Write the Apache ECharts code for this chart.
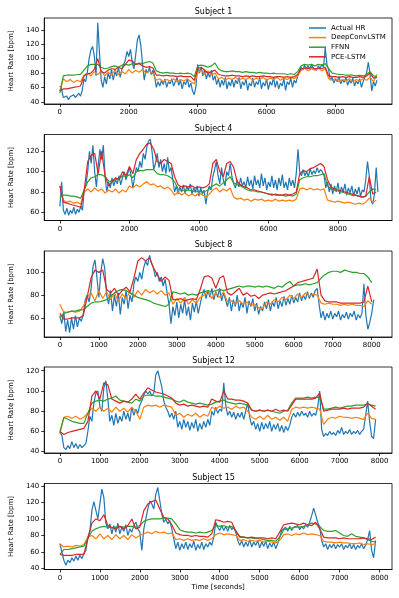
<!DOCTYPE html>
<html>
<head>
<meta charset="utf-8">
<script src="https://cdn.jsdelivr.net/npm/echarts@6/dist/echarts.min.js"></script>
<style>
  html, body { margin: 0; padding: 0; background: #fff; }
  #hr-chart { width: 399px; height: 598px; }
</style>
</head>
<body>
<div id="hr-chart"></div>
<script>
// series names / colours
const seriesNames = ['Actual HR', 'DeepConvLSTM', 'FFNN', 'PCE-LSTM'];
const subjects = ['Subject 1', 'Subject 4', 'Subject 8', 'Subject 12', 'Subject 15'];
// sample spacing (seconds): actual HR every 50 s, model predictions every 100 s
const hrStep = 50;
const predStep = 100;

// ---- Subject 1 ----
const s1Hr = [62,58,46,44,48,43,47,45,50,46,49,52,48,56,72,68,82,100,112,117,
  104,76,150,108,70,60,75,65,80,72,85,70,82,76,88,74,85,92,98,110,
  103,113,95,86,105,126,133,118,92,70,85,80,88,78,84,75,60,68,62,70,
  64,72,60,68,65,72,62,68,74,63,70,58,68,64,72,60,66,55,50,62,
  92,80,88,76,85,72,80,74,84,70,76,64,72,60,70,63,74,58,68,62,
  72,60,70,65,74,58,68,63,72,56,66,62,73,60,68,64,74,58,67,62,
  72,57,68,63,74,60,69,58,66,62,72,56,68,64,73,60,70,66,76,82,
  88,84,91,86,90,85,92,87,89,84,90,86,92,88,115,92,84,70,74,66,
  72,68,75,65,71,67,74,63,70,66,73,62,69,65,72,60,68,74,80,95,
  78,55,68,62,70];
const s1Conv = [55,72,68,71,67,70,68,77,80,76,82,78,83,76,81,77,84,78,82,79,
  85,80,84,81,85,80,83,79,70,72,68,71,69,72,68,71,69,72,68,65,
  80,84,78,83,77,80,72,74,70,73,71,74,70,73,71,74,70,73,71,74,
  70,73,71,74,70,73,71,74,72,76,84,87,83,86,84,87,83,86,72,70,
  72,68,71,69,72,68,71,69,72,70,74,68,78];
const s1Ffnn = [52,76,77,77,77,78,78,84,90,92,92,92,88,86,87,89,90,88,91,92,
  91,93,92,94,93,95,96,94,83,81,80,81,80,80,79,80,79,80,79,75,
  90,91,90,88,90,94,86,83,82,82,83,82,82,81,82,81,81,80,81,80,
  80,79,80,79,79,79,78,79,78,82,90,92,91,92,90,92,91,93,86,80,
  79,78,78,77,77,77,76,77,76,78,82,76,75];
const s1Pce = [55,58,58,59,60,61,62,76,79,80,85,100,82,80,84,86,85,88,86,92,
  98,97,92,93,90,88,89,87,77,77,76,77,76,76,75,76,75,75,75,70,
  86,88,84,80,82,84,78,77,76,76,77,76,76,75,76,75,76,75,75,76,
  75,75,74,75,75,74,75,74,75,78,86,87,86,88,86,87,86,88,76,75,
  75,74,75,74,75,74,74,75,74,76,80,73,74];

// ---- Subject 4 ----
const s4Hr = [66,90,62,58,64,57,62,59,65,58,63,60,66,62,82,88,100,120,108,126,
  100,85,105,122,112,126,95,80,90,84,94,86,92,88,96,87,94,100,92,98,
  104,96,84,95,104,100,110,104,118,112,124,130,132,120,102,108,118,104,112,100,
  108,98,114,100,104,92,80,86,78,85,80,87,79,85,82,88,78,84,80,86,
  76,84,78,82,68,80,86,82,95,102,110,96,88,104,92,86,100,96,108,95,
  88,84,92,85,94,86,90,84,95,86,92,83,96,87,92,84,98,86,94,82,
  90,85,96,84,92,82,94,86,97,84,90,82,94,86,92,84,98,122,100,96,
  102,96,100,95,103,97,101,98,104,99,102,100,96,84,90,80,88,78,86,80,
  89,78,85,80,88,77,84,79,86,76,83,78,85,76,82,80,92,110,96,72,
  68,78,104,80];
const s4Conv = [86,72,70,71,69,70,68,80,83,80,84,81,83,79,82,80,83,79,82,80,
  86,84,87,85,88,90,87,88,85,86,83,85,82,77,80,77,79,76,78,76,
  79,77,75,78,82,84,80,83,81,84,75,73,74,72,73,71,73,72,73,71,
  72,71,73,71,72,71,72,71,73,83,84,82,84,82,83,82,83,72,71,70,
  71,70,69,70,69,68,69,68,70,74,70,72];
const s4Ffnn = [75,77,77,76,76,75,74,82,90,94,95,97,97,95,91,90,92,93,96,95,
  97,94,100,101,101,102,102,102,98,97,97,96,94,90,83,82,81,82,81,80,
  81,80,81,83,86,88,86,89,92,95,89,87,86,84,82,81,81,80,80,79,
  78,78,77,77,77,76,77,76,78,92,94,95,95,96,96,97,98,86,83,82,
  81,80,79,78,77,77,76,75,76,80,83,82];
const s4Pce = [86,70,69,68,67,66,65,82,110,116,118,98,120,96,86,90,94,92,100,96,
  105,98,112,118,122,127,128,122,110,108,112,110,108,95,87,85,86,85,86,84,
  85,84,85,88,108,112,100,95,108,110,104,90,87,85,84,82,82,81,80,79,
  78,77,78,77,77,78,77,78,80,98,101,100,103,104,106,108,105,92,85,83,
  82,81,80,79,78,77,76,75,76,95,78,80];

// ---- Subject 8 ----
const s8Hr = [62,55,66,48,58,47,60,50,62,52,60,57,63,76,80,74,85,105,111,96,
  78,100,112,104,80,72,84,66,80,70,82,63,78,72,84,68,80,74,90,96,
  92,100,94,104,110,106,115,108,104,96,100,92,96,88,94,82,72,55,70,62,
  74,60,72,64,76,62,70,58,73,65,75,64,72,80,85,77,84,78,86,76,
  83,78,86,75,82,76,70,78,66,76,70,80,66,74,69,78,64,75,70,77,
  66,73,63,70,66,74,68,76,66,74,70,78,68,75,70,79,71,77,72,80,
  73,78,74,82,75,80,76,83,77,82,78,84,86,72,60,66,58,64,60,66,
  59,64,61,66,58,63,60,65,59,64,61,66,58,63,60,64,90,62,50,56,
  64,76];
const s8Conv = [72,65,65,66,65,66,70,78,82,75,84,77,83,76,82,75,81,77,83,78,
  84,80,85,82,84,81,84,80,82,72,77,73,78,72,76,73,78,80,84,77,
  82,78,83,74,75,72,75,72,74,71,72,69,68,74,72,76,74,78,76,80,
  77,81,78,82,79,81,80,73,72,73,72,72,71,72,71,72,71,71,70,75,
  72];
const s8Ffnn = [60,64,65,66,66,67,67,70,73,74,74,75,76,79,82,84,85,84,82,80,
  78,77,76,75,73,72,71,70,72,83,82,81,82,80,81,80,82,83,84,83,
  84,85,84,85,86,87,88,87,88,88,87,88,87,88,87,86,88,87,90,92,
  88,89,89,90,89,90,91,95,98,100,101,101,100,102,101,100,100,99,99,96,
  91];
const s8Pce = [64,59,59,60,60,60,62,78,95,102,100,102,85,82,86,80,84,87,83,95,
  110,113,110,113,104,98,92,96,93,76,76,77,75,76,77,76,85,96,97,95,
  86,95,97,82,80,83,86,80,82,79,80,77,80,81,82,81,82,83,84,86,
  88,91,92,93,94,95,103,80,75,74,74,74,73,73,73,73,73,73,74,88,
  74];

// ---- Subject 12 ----
const s12Hr = [60,56,44,42,46,43,50,44,48,43,47,44,46,48,60,75,70,88,98,100,
  85,80,103,110,92,70,76,66,78,68,75,70,80,72,78,70,84,76,82,78,
  86,90,96,100,97,100,95,98,116,120,119,104,90,84,80,74,78,72,80,64,
  70,62,72,64,70,61,69,63,72,60,68,62,70,64,72,66,80,76,84,78,
  82,80,108,86,76,80,74,79,72,78,74,79,72,80,88,74,66,70,62,68,
  60,69,62,68,63,70,60,67,62,68,60,66,59,65,61,66,74,78,74,79,
  75,80,76,78,74,80,75,78,76,84,100,62,55,58,56,60,57,59,56,61,
  58,64,57,60,58,62,57,60,58,61,57,60,62,76,90,70,55,53,72];
const s12Conv = [60,74,75,73,75,72,74,78,83,80,84,80,83,79,84,80,83,79,84,80,
  72,84,86,85,86,84,86,85,84,76,78,74,77,75,78,74,77,75,84,82,
  85,83,84,82,85,83,84,80,74,72,75,72,76,72,74,71,74,70,82,84,
  83,84,83,84,83,82,67,72,74,73,75,74,74,73,74,73,72,78,73,72];
const s12Ffnn = [58,74,72,70,69,68,68,78,88,90,91,90,92,93,95,91,90,89,88,92,
  90,95,96,96,95,95,94,93,92,90,89,91,89,88,87,88,87,86,87,89,
  90,91,89,88,87,88,87,86,81,80,81,80,81,80,79,78,80,81,88,93,
  93,93,94,93,94,94,82,82,83,84,83,84,85,85,86,86,86,87,86,85];
const s12Pce = [60,57,59,60,61,62,63,70,95,100,92,108,106,92,90,88,90,89,92,97,
  92,98,103,101,99,98,97,95,93,88,86,87,85,86,85,84,85,84,92,90,
  89,100,92,92,91,91,90,88,81,80,81,80,81,80,82,80,81,80,86,92,
  92,92,92,92,93,98,80,81,82,82,82,83,82,83,83,83,84,88,85,82];

// ---- Subject 15 ----
const s15Hr = [70,60,50,44,50,47,53,49,55,50,56,52,58,62,78,85,110,121,122,100,
  118,136,126,95,88,94,82,92,84,95,82,90,85,93,80,88,84,92,96,88,
  84,62,88,100,112,122,118,112,130,138,122,106,96,100,94,98,88,76,64,72,
  62,70,64,72,63,70,65,73,62,69,64,72,63,70,66,72,68,78,96,90,
  86,92,86,91,85,92,87,90,84,74,68,74,66,72,67,75,66,72,68,74,
  65,72,67,73,64,71,66,72,64,70,78,86,84,90,85,91,86,90,88,92,
  87,91,88,93,90,96,104,113,105,96,90,74,66,70,63,69,65,70,64,69,
  66,70,63,68,65,70,64,69,63,68,65,70,64,68,75,86,62,53,74];
const s15Conv = [70,66,67,66,68,67,69,78,80,76,82,76,80,75,81,76,80,75,81,77,
  80,82,84,82,85,83,84,82,83,75,76,74,76,74,75,74,76,74,76,81,
  83,81,82,81,80,74,75,73,74,73,74,72,73,72,71,74,81,82,80,82,
  81,83,81,82,81,80,73,72,72,71,72,71,71,70,70,71,69,70,69,70];
const s15Ffnn = [57,63,63,64,65,66,67,76,85,88,90,91,90,89,90,91,90,91,91,90,
  92,97,99,100,100,100,101,101,100,94,87,85,84,84,83,84,83,84,86,92,
  91,92,90,91,86,79,78,77,77,76,76,75,74,74,73,78,87,88,89,90,
  90,91,93,95,94,91,86,85,85,86,83,80,79,82,79,78,77,75,73,72];
const s15Pce = [57,56,56,56,57,57,57,76,95,100,98,105,92,90,88,91,88,92,100,88,
  90,110,118,121,123,112,102,100,93,83,81,80,80,79,80,79,79,78,82,99,
  98,96,97,96,85,78,78,77,78,77,77,77,76,77,76,84,93,94,95,94,
  93,95,93,92,96,88,78,77,77,77,76,77,76,76,76,76,77,76,75,78];

// per-panel data, axis ranges and tick labels
const hrData = [s1Hr, s4Hr, s8Hr, s12Hr, s15Hr];
const convData = [s1Conv, s4Conv, s8Conv, s12Conv, s15Conv];
const ffnnData = [s1Ffnn, s4Ffnn, s8Ffnn, s12Ffnn, s15Ffnn];
const pceData = [s1Pce, s4Pce, s8Pce, s12Pce, s15Pce];
const xTicks = [
  [0, 2000, 4000, 6000, 8000],
  [0, 2000, 4000, 6000, 8000],
  [0, 1000, 2000, 3000, 4000, 5000, 6000, 7000, 8000],
  [0, 1000, 2000, 3000, 4000, 5000, 6000, 7000, 8000],
  [0, 1000, 2000, 3000, 4000, 5000, 6000, 7000, 8000]
];
const yTicks = [
  [40, 60, 80, 100, 120, 140],
  [60, 80, 100, 120],
  [60, 80, 100],
  [40, 60, 80, 100, 120],
  [40, 60, 80, 100, 120, 140]
];
const xRange = [[-452, 9637], [-450, 9555], [-400, 8520], [-391, 8310], [-391, 8310]];
const yRange = [[37, 156.5], [52, 136.5], [43.2, 118.8], [38.7, 123.7], [38.8, 142.9]];

const colors = ['#1f77b4', '#ff7f0e', '#2ca02c', '#d62728'];
const font = 'DejaVu Sans';
const gridTops = [18, 134.5, 251, 367, 483.5];
const gridLeft = 35, gridWidth = 357, gridHeight = 86;

function toPairs(vals, step) {
  return vals.map((v, i) => [i * step, v]);
}

const grids = [], xAxes = [], yAxes = [], titles = [], series = [];
for (let i = 0; i < 5; i++) {
  grids.push({
    left: gridLeft, top: gridTops[i], width: gridWidth, height: gridHeight,
    show: true, borderColor: '#000', borderWidth: 0.8, backgroundColor: 'transparent'
  });
  titles.push({
    text: subjects[i], left: gridLeft + gridWidth / 2, top: gridTops[i] - 10,
    textAlign: 'center', padding: 0,
    textStyle: { fontSize: 8, fontWeight: 'normal', fontFamily: font, color: '#000' }
  });
  const isLast = i === 4;
  xAxes.push({
    type: 'value', gridIndex: i, min: xRange[i][0], max: xRange[i][1],
    name: isLast ? 'Time [seconds]' : '', nameLocation: 'middle', nameGap: 14,
    nameTextStyle: { fontSize: 7, fontFamily: font, color: '#000' },
    axisLine: { show: true, onZero: false, lineStyle: { color: '#000', width: 0.8 } },
    axisTick: { show: true, length: 3, customValues: xTicks[i], lineStyle: { color: '#000', width: 0.8 } },
    axisLabel: {
      customValues: xTicks[i], fontSize: 7, fontFamily: font, color: '#000', margin: 5,
      formatter: v => String(v)
    },
    splitLine: { show: false }
  });
  yAxes.push({
    type: 'value', gridIndex: i, min: yRange[i][0], max: yRange[i][1],
    name: 'Heart Rate [bpm]', nameLocation: 'middle', nameGap: 19,
    nameTextStyle: { fontSize: 7, fontFamily: font, color: '#000' },
    axisLine: { show: true, onZero: false, lineStyle: { color: '#000', width: 0.8 } },
    axisTick: { show: true, length: 3, customValues: yTicks[i], lineStyle: { color: '#000', width: 0.8 } },
    axisLabel: {
      customValues: yTicks[i], fontSize: 7, fontFamily: font, color: '#000', margin: 5,
      formatter: v => String(v)
    },
    splitLine: { show: false }
  });
  const sets = [
    toPairs(hrData[i], hrStep),
    toPairs(convData[i], predStep),
    toPairs(ffnnData[i], predStep),
    toPairs(pceData[i], predStep)
  ];
  sets.forEach((d, k) => {
    series.push({
      name: seriesNames[k], type: 'line', xAxisIndex: i, yAxisIndex: i,
      data: d, showSymbol: false, symbol: 'none',
      lineStyle: { color: colors[k], width: 1.2 }, itemStyle: { color: colors[k] }
    });
  });
}

const option = {
  animation: false,
  backgroundColor: '#fff',
  title: titles,
  legend: {
    data: seriesNames, orient: 'vertical', left: 309, top: 24,
    icon: 'rect', itemWidth: 17, itemHeight: 1.5, itemGap: 1.6, padding: 0,
    textStyle: { fontSize: 7, fontFamily: font, color: '#000', lineHeight: 8 }
  },
  grid: grids,
  xAxis: xAxes,
  yAxis: yAxes,
  series: series
};

const chart = echarts.init(document.getElementById('hr-chart'));
chart.setOption(option);
</script>
</body>
</html>
